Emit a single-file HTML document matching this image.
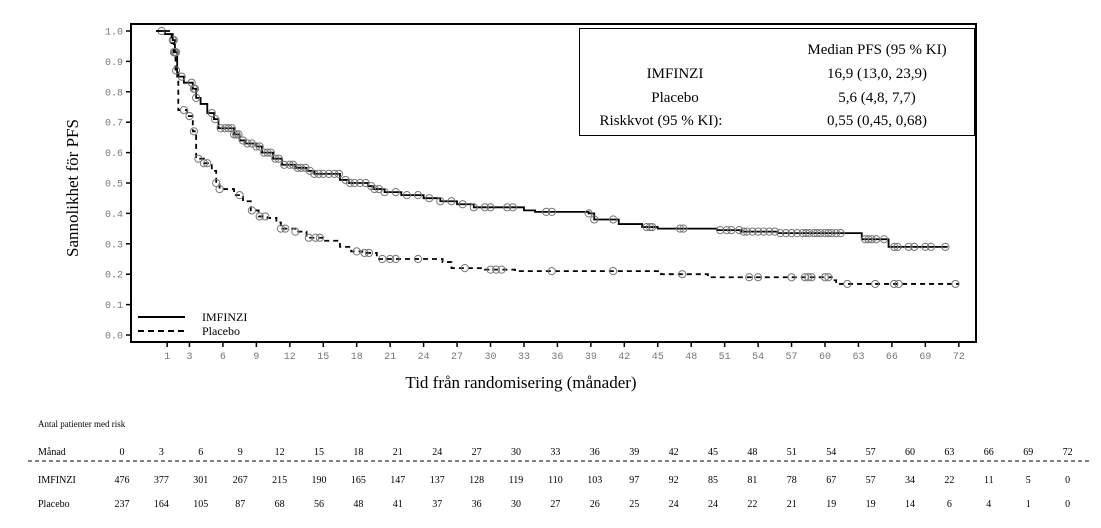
<!DOCTYPE html>
<html><head><meta charset="utf-8"><style>
html,body{margin:0;padding:0;background:#fff;}
body{width:1101px;height:528px;overflow:hidden;position:relative;font-family:"Liberation Serif",serif;}
.t{position:absolute;font-size:10px;color:#000;white-space:nowrap;}
</style></head><body>
<svg id="s" width="1101" height="528" style="position:absolute;left:0;top:0" xmlns="http://www.w3.org/2000/svg">
<rect x="131" y="24" width="845" height="318" fill="none" stroke="#000" stroke-width="2"/>
<rect x="579.5" y="28.5" width="395" height="107" fill="#fff" stroke="#000" stroke-width="1"/>
<g font-family="Liberation Serif, serif" font-size="15" fill="#000">
<text x="877" y="54" text-anchor="middle">Median PFS (95 % KI)</text>
<text x="675" y="78" text-anchor="middle">IMFINZI</text>
<text x="877" y="78" text-anchor="middle">16,9 (13,0, 23,9)</text>
<text x="675" y="102" text-anchor="middle">Placebo</text>
<text x="877" y="102" text-anchor="middle">5,6 (4,8, 7,7)</text>
<text x="661" y="125" text-anchor="middle">Riskkvot (95 % KI):</text>
<text x="877" y="125" text-anchor="middle">0,55 (0,45, 0,68)</text>
</g>
<g font-family="Liberation Serif, serif" font-size="12" fill="#000">
<line x1="138" y1="317" x2="185" y2="317" stroke="#000" stroke-width="2"/>
<line x1="138" y1="331" x2="185" y2="331" stroke="#000" stroke-width="2" stroke-dasharray="6,4"/>
<text x="202" y="321">IMFINZI</text>
<text x="202" y="335">Placebo</text>
</g>
<text x="78" y="188" transform="rotate(-90 78 188)" text-anchor="middle" font-family="Liberation Serif, serif" font-size="17">Sannolikhet för PFS</text>
<text x="521" y="388" text-anchor="middle" font-family="Liberation Serif, serif" font-size="17">Tid från randomisering (månader)</text>
<g id="ax" font-family="Liberation Mono, monospace" font-size="10" fill="#777"></g>
<g id="cur"></g>
<line x1="28" y1="461" x2="1090" y2="461" stroke="#000" stroke-width="1" stroke-dasharray="4,3"/>
</svg>
<div class="t" style="left:38px;top:419px;font-size:9px">Antal patienter med risk</div>
<div id="tbl"></div>
<script>
var NS="http://www.w3.org/2000/svg";
function X(m){return 156+11.15*m;}
function Y(p){return 335-304*p;}
function el(n,a,p){var e=document.createElementNS(NS,n);for(var k in a)e.setAttribute(k,a[k]);p.appendChild(e);return e;}
var ax=document.getElementById('ax');
for(var i=0;i<=10;i++){var y=Y(i/10);el('line',{x1:126,y1:y,x2:131,y2:y,stroke:'#000','stroke-width':1.5},ax);
var t=el('text',{x:123,y:y+3.5,'text-anchor':'end'},ax);t.textContent=(i/10).toFixed(1);}
var xt=[1];for(var m=3;m<=72;m+=3)xt.push(m);
xt.forEach(function(m){var x=X(m);el('line',{x1:x,y1:342,x2:x,y2:347,stroke:'#000','stroke-width':1.5},ax);
var t=el('text',{x:x,y:359,'text-anchor':'middle'},ax);t.textContent=m;});
var cur=document.getElementById('cur');
function step(pts,dash,cens){var d="M"+X(pts[0][0])+","+Y(pts[0][1]);
for(var i=1;i<pts.length;i++){d+="H"+X(pts[i][0])+"V"+Y(pts[i][1]);}
var a={d:d,fill:'none',stroke:'#000','stroke-width':1.8};if(dash)a['stroke-dasharray']='5,4';el('path',a,cur);
function val(m){var v=pts[0][1];for(var i=0;i<pts.length;i++)if(pts[i][0]<=m)v=pts[i][1];return v;}
cens.forEach(function(m){el('circle',{cx:X(m),cy:Y(val(m)),r:3.6,fill:'none',stroke:'#777','stroke-width':1},cur);});}
var imf=[[0,1],[0.8,0.99],[1.5,0.97],[1.7,0.93],[1.9,0.85],[2.5,0.83],[3.3,0.81],[3.6,0.78],[4,0.76],[4.6,0.73],[5.2,0.71],[5.6,0.68],[7,0.66],[7.5,0.64],[8,0.63],[9,0.62],[9.5,0.6],[10.5,0.58],[11.3,0.56],[12.5,0.55],[13.5,0.54],[14.2,0.53],[16.5,0.51],[17.3,0.5],[19,0.49],[19.5,0.48],[20.5,0.47],[22,0.46],[24,0.45],[25.5,0.44],[27,0.43],[28.5,0.42],[33,0.41],[34,0.405],[38.8,0.40],[39.3,0.38],[41.5,0.365],[43.6,0.355],[45,0.35],[50.3,0.345],[52.5,0.34],[55.8,0.335],[63.3,0.315],[65.7,0.29],[71,0.29]];
var imfC=[0.5,1.5,1.6,1.7,1.8,2.3,3.2,3.4,3.5,3.6,5,5.3,5.8,6.2,6.5,6.8,7,7.2,7.4,7.8,8.2,8.6,9,9.3,9.7,10,10.3,10.7,11,11.5,12,12.3,12.7,13,13.4,13.8,14.2,14.6,15,15.5,16,16.4,17,17.4,17.8,18.3,18.8,19.3,19.6,20,20.5,21.5,22.5,23.5,24.5,25.5,26.5,27.5,28.5,29.5,30,31.5,32,35,35.5,38.8,39.3,41,44,44.3,44.5,47,47.3,50.6,51.2,51.6,52.3,52.7,53,53.5,54,54.5,55,55.5,56,56.5,57,57.5,58,58.3,58.6,59,59.3,59.6,60,60.3,60.6,61,61.4,63.6,63.9,64.2,64.6,65.3,66.2,66.5,67.5,68,69,69.5,70.8];
var pla=[[0,1],[1.4,0.96],[1.6,0.93],[1.75,0.87],[2,0.74],[2.8,0.72],[3.3,0.67],[3.6,0.58],[4.3,0.565],[5,0.54],[5.4,0.5],[5.7,0.48],[7,0.46],[7.8,0.44],[8.5,0.41],[9.2,0.39],[10,0.385],[10.8,0.37],[11.2,0.35],[12.5,0.34],[13.5,0.32],[15,0.31],[16.5,0.29],[17.5,0.275],[18.5,0.27],[19.8,0.25],[25.7,0.24],[26.5,0.22],[29.5,0.215],[32.2,0.21],[45.3,0.20],[49.5,0.19],[60.7,0.18],[61,0.168],[72,0.168]];
var plaC=[1.6,1.8,2.5,3,3.4,3.8,4.3,4.6,5.4,5.7,7.5,8.6,9.3,9.8,11.2,11.6,12.5,13.7,14.3,14.7,18,18.7,19.1,20.3,21,21.5,23.5,27.7,30,30.5,31,35.5,41,47.2,53.2,54,57,58.2,58.5,58.8,60,60.3,62,64.5,66.2,66.6,71.7];
step(imf,false,imfC);step(pla,true,plaC);
var cols=[0,3,6,9,12,15,18,21,24,27,30,33,36,39,42,45,48,51,54,57,60,63,66,69,72];
var r1=[476,377,301,267,215,190,165,147,137,128,119,110,103,97,92,85,81,78,67,57,34,22,11,5,0];
var r2=[237,164,105,87,68,56,48,41,37,36,30,27,26,25,24,24,22,21,19,19,14,6,4,1,0];
var h="";
function row(y,lab,arr){h+='<div class="t" style="left:38px;top:'+y+'px">'+lab+'</div>';
for(var i=0;i<25;i++){var x=122+39.4*i;h+='<div class="t" style="left:'+(x-15)+'px;width:30px;text-align:center;top:'+y+'px">'+arr[i]+'</div>';}}
row(447,'Månad',cols);row(475,'IMFINZI',r1);row(499,'Placebo',r2);
document.getElementById('tbl').innerHTML=h;
</script>
</body></html>
